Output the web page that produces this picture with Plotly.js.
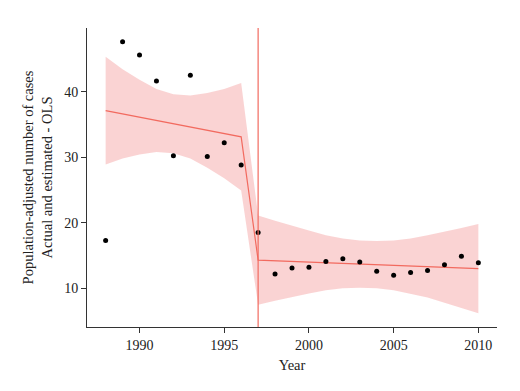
<!DOCTYPE html>
<html>
<head>
<meta charset="utf-8">
<script src="https://cdn.plot.ly/plotly-3.0.1.min.js"></script>
<style>html,body{margin:0;padding:0;background:#fff;}#chart{width:520px;height:391px;}</style>
</head>
<body>
<div id="chart"></div>
<script>
// Observed values
var years = [1988,1989,1990,1991,1992,1993,1994,1995,1996,1997,1998,1999,2000,2001,2002,2003,2004,2005,2006,2007,2008,2009,2010];
var actual = [17.3,47.6,45.6,41.6,30.2,42.5,30.1,32.2,28.8,18.5,12.2,13.1,13.2,14.1,14.5,14.0,12.6,12.0,12.4,12.7,13.6,14.9,13.9];
// OLS fitted values and confidence band
var fitted = [37.1,36.6,36.1,35.6,35.1,34.6,34.1,33.6,33.1,14.3,14.2,14.1,14.0,13.9,13.8,13.7,13.6,13.5,13.4,13.3,13.2,13.1,13.0];
var upper = [45.3,43.4,41.8,40.4,39.6,39.4,39.8,40.4,41.3,21.1,20.3,19.5,18.8,18.1,17.6,17.3,17.2,17.3,17.6,18.1,18.6,19.2,19.8];
var lower = [28.9,29.8,30.4,30.8,30.6,29.8,28.4,26.8,24.9,7.5,8.1,8.7,9.2,9.7,10.0,10.1,10.0,9.7,9.2,8.6,7.8,7.0,6.2];
var breakYear = 1997;
var xTicks = [1990,1995,2000,2005,2010];
var yTicks = [10,20,30,40];

var red = '#f26a5f';
var font = "'Liberation Serif', 'DejaVu Serif', serif";

var traces = [
  {x: years, y: lower, mode: 'lines', line: {width: 0, color: 'rgba(0,0,0,0)'}, hoverinfo: 'skip', showlegend: false},
  {x: years, y: upper, mode: 'lines', line: {width: 0, color: 'rgba(0,0,0,0)'}, fill: 'tonexty', fillcolor: 'rgba(238,110,110,0.30)', hoverinfo: 'skip', showlegend: false},
  {x: years, y: fitted, mode: 'lines', line: {width: 1.2, color: red}, showlegend: false},
  {x: years, y: actual, mode: 'markers', marker: {size: 5, color: '#000'}, showlegend: false}
];

var layout = {
  width: 520, height: 391,
  margin: {l: 87, r: 23, t: 28, b: 64},
  paper_bgcolor: '#fff', plot_bgcolor: '#fff',
  font: {family: font, size: 14, color: '#222'},
  showlegend: false,
  xaxis: {
    range: [1986.9, 2011.1], tickvals: xTicks, ticktext: xTicks.map(String),
    showgrid: false, zeroline: false, showline: true, linecolor: '#333', linewidth: 1,
    ticks: 'outside', ticklen: 5, tickcolor: '#333', tickfont: {family: font, size: 14, color: '#222'},
    title: {text: 'Year', font: {family: font, size: 14.5, color: '#222'}, standoff: 8}
  },
  yaxis: {
    range: [4.1, 49.7], tickvals: yTicks, ticktext: yTicks.map(String),
    showgrid: false, zeroline: false, showline: true, linecolor: '#333', linewidth: 1,
    ticks: 'outside', ticklen: 5, tickcolor: '#333', tickfont: {family: font, size: 14, color: '#222'},
    title: {text: 'Population-adjusted number of cases<br>Actual and estimated - OLS', font: {family: font, size: 14.5, color: '#222'}, standoff: 8}
  },
  shapes: [{type: 'line', xref: 'x', yref: 'paper', x0: breakYear, x1: breakYear, y0: 0, y1: 1, line: {color: red, width: 1.2}}]
};

Plotly.newPlot('chart', traces, layout, {displayModeBar: false, staticPlot: true});
</script>
</body>
</html>
